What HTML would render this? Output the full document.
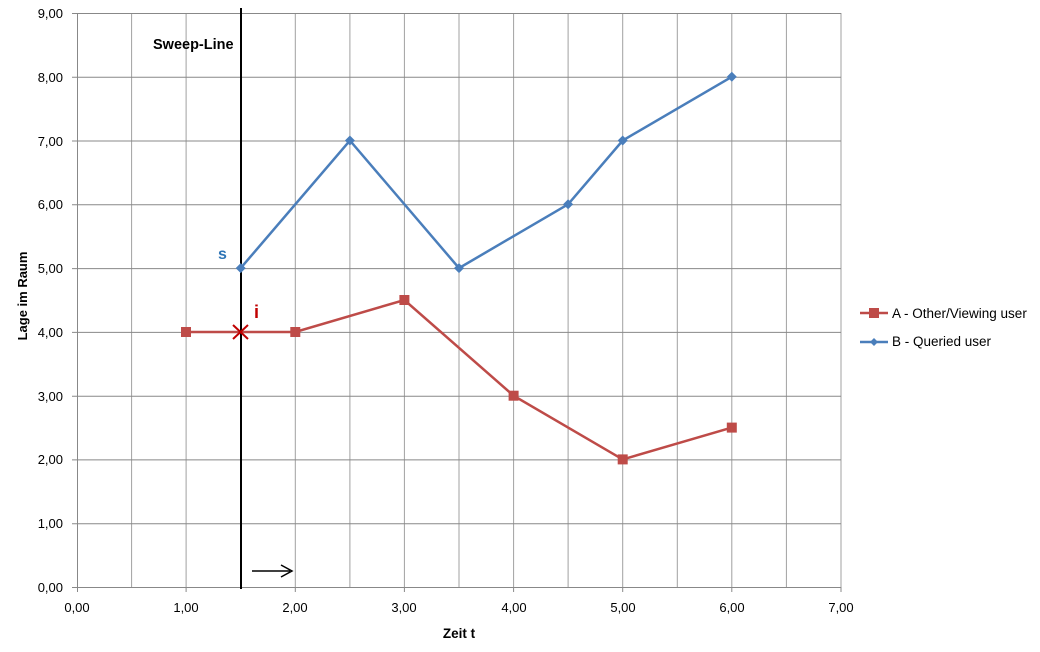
<!DOCTYPE html>
<html><head><meta charset="utf-8"><style>
body{margin:0;background:#fff}
text{font-family:"Liberation Sans",sans-serif;font-size:13px;fill:#000}
</style></head><body>
<svg width="1040" height="647" xmlns="http://www.w3.org/2000/svg">
<rect width="1040" height="647" fill="#fff"/>
<g stroke="#a0a0a0" stroke-width="1">
<line x1="131.6" y1="13" x2="131.6" y2="587"/>
<line x1="186.1" y1="13" x2="186.1" y2="587"/>
<line x1="240.7" y1="13" x2="240.7" y2="587"/>
<line x1="295.3" y1="13" x2="295.3" y2="587"/>
<line x1="349.9" y1="13" x2="349.9" y2="587"/>
<line x1="404.4" y1="13" x2="404.4" y2="587"/>
<line x1="459" y1="13" x2="459" y2="587"/>
<line x1="513.6" y1="13" x2="513.6" y2="587"/>
<line x1="568.1" y1="13" x2="568.1" y2="587"/>
<line x1="622.7" y1="13" x2="622.7" y2="587"/>
<line x1="677.3" y1="13" x2="677.3" y2="587"/>
<line x1="731.8" y1="13" x2="731.8" y2="587"/>
<line x1="786.4" y1="13" x2="786.4" y2="587"/>
<line x1="841" y1="13" x2="841" y2="587"/>
</g>
<g stroke="#888" stroke-width="1">
<line x1="72" y1="13.5" x2="841" y2="13.5"/>
<line x1="72" y1="77.3" x2="841" y2="77.3"/>
<line x1="72" y1="141" x2="841" y2="141"/>
<line x1="72" y1="204.8" x2="841" y2="204.8"/>
<line x1="72" y1="268.6" x2="841" y2="268.6"/>
<line x1="72" y1="332.4" x2="841" y2="332.4"/>
<line x1="72" y1="396.2" x2="841" y2="396.2"/>
<line x1="72" y1="459.9" x2="841" y2="459.9"/>
<line x1="72" y1="523.7" x2="841" y2="523.7"/>
<line x1="72" y1="587.5" x2="841" y2="587.5"/>
<line x1="77.5" y1="13" x2="77.5" y2="587"/>
</g>
<g stroke="#888"><line x1="77.5" y1="587" x2="77.5" y2="592"/><line x1="186.1" y1="587" x2="186.1" y2="592"/><line x1="295.3" y1="587" x2="295.3" y2="592"/><line x1="404.4" y1="587" x2="404.4" y2="592"/><line x1="513.6" y1="587" x2="513.6" y2="592"/><line x1="622.7" y1="587" x2="622.7" y2="592"/><line x1="731.8" y1="587" x2="731.8" y2="592"/><line x1="841" y1="587" x2="841" y2="592"/></g>
<g text-anchor="end">
<text x="63" y="18">9,00</text><text x="63" y="82">8,00</text><text x="63" y="146">7,00</text><text x="63" y="209">6,00</text><text x="63" y="273">5,00</text><text x="63" y="337">4,00</text><text x="63" y="401">3,00</text><text x="63" y="464">2,00</text><text x="63" y="528">1,00</text><text x="63" y="592">0,00</text>
</g>
<g text-anchor="middle">
<text x="77" y="612">0,00</text><text x="186" y="612">1,00</text><text x="295" y="612">2,00</text><text x="404" y="612">3,00</text><text x="514" y="612">4,00</text><text x="623" y="612">5,00</text><text x="732" y="612">6,00</text><text x="841" y="612">7,00</text>
<text x="459" y="638" font-weight="bold" style="font-size:13.5px">Zeit t</text>
<text transform="translate(27,296) rotate(-90)" font-weight="bold" style="font-size:13px">Lage im Raum</text>
</g>
<line x1="241" y1="8" x2="241" y2="589" stroke="#000" stroke-width="2"/>
<text x="153" y="49" font-weight="bold" style="font-size:14.5px">Sweep-Line</text>
<line x1="252" y1="571" x2="290" y2="571" stroke="#000" stroke-width="1.5"/>
<polyline points="281,565 292,571 281,577" fill="none" stroke="#000" stroke-width="1.5"/>
<polyline points="240.7,268.1 349.9,140.5 459,268.1 568.1,204.3 622.7,140.5 731.8,76.8" fill="none" stroke="#4a7ebb" stroke-width="2.5"/>
<g fill="#4a7ebb">
<polygon points="240.7,263.1 245.7,268.1 240.7,273.1 235.7,268.1"/>
<polygon points="349.9,135.5 354.9,140.5 349.9,145.5 344.9,140.5"/>
<polygon points="459,263.1 464,268.1 459,273.1 454,268.1"/>
<polygon points="568.1,199.3 573.1,204.3 568.1,209.3 563.1,204.3"/>
<polygon points="622.7,135.5 627.7,140.5 622.7,145.5 617.7,140.5"/>
<polygon points="731.8,71.8 736.8,76.8 731.8,81.8 726.8,76.8"/>
</g>
<polyline points="186.1,332 295.3,332 404.4,300 513.6,395.7 622.7,459.4 731.8,427.6" fill="none" stroke="#be4b48" stroke-width="2.5"/>
<g fill="#be4b48">
<rect x="181" y="327" width="10" height="10"/><rect x="290.3" y="327" width="10" height="10"/><rect x="399.4" y="295" width="10" height="10"/><rect x="508.6" y="390.7" width="10" height="10"/><rect x="617.7" y="454.4" width="10" height="10"/><rect x="726.8" y="422.6" width="10" height="10"/>
</g>
<g stroke="#c00000" stroke-width="2"><line x1="233" y1="325" x2="248" y2="339"/><line x1="248" y1="325" x2="233" y2="339"/></g>
<text x="218" y="259" font-weight="bold" style="font-size:16px;fill:#2e75b6">s</text>
<text x="254" y="318" font-weight="bold" style="font-size:18px;fill:#c00000">i</text>
<line x1="860" y1="313" x2="888" y2="313" stroke="#be4b48" stroke-width="2.5"/>
<rect x="869" y="308" width="10" height="10" fill="#be4b48"/>
<text x="892" y="318" style="font-size:13.5px">A - Other/Viewing user</text>
<line x1="860" y1="342" x2="888" y2="342" stroke="#4a7ebb" stroke-width="2.5"/>
<polygon points="874,338 878,342 874,346 870,342" fill="#4a7ebb"/>
<text x="892" y="346" style="font-size:13.5px">B - Queried user</text>
</svg>
</body></html>
